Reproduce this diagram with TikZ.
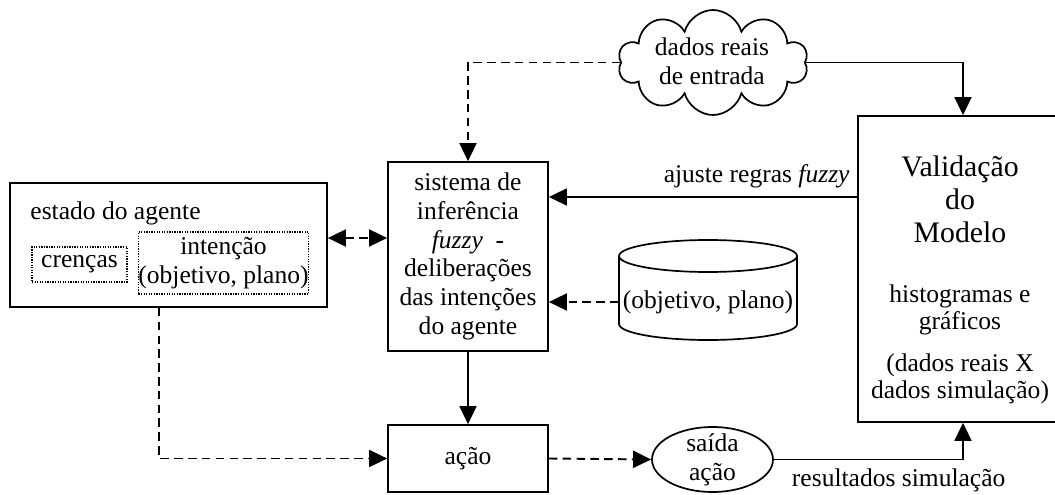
\documentclass[tikz,border=0pt]{standalone}
\usepackage{fontspec}
\setmainfont{Liberation Serif}
\usetikzlibrary{arrows.meta, positioning, shapes.geometric, shapes.symbols}

\begin{document}
\begin{tikzpicture}[
  x=0.47pt, y=0.47pt,
  every node/.style={font=\fontsize{12}{13.5}\selectfont, align=center, inner sep=0pt},
  size/.style 2 args={minimum width=#1*0.47pt, minimum height=#2*0.47pt},
  box/.style={draw, line width=0.8pt},
  dotbox/.style={draw, line width=0.6pt, dash pattern=on 0.6pt off 0.6pt},
  arr/.style={-{Triangle[length=8.5pt, width=8pt]}, line width=0.8pt},
  dasharr/.style={arr, line width=0.9pt, dash pattern=on 4pt off 2.5pt},
]
\clip (0,0) rectangle (1055,-495);

% agent state
\node[box, size={317}{124}] (estado) at (168.5,-245) {};
\node[anchor=west] (estadotxt) at (30,-213) {estado do agente};
\node[dotbox, size={95}{35}] (crencas) at (79.5,-264.5) {crenças};
\node[dotbox, size={169}{62}] (intencao) at (223.5,-263) {intenção\\(objetivo, plano)};

% fuzzy inference and action
\node[box, size={160}{189}] (sis) at (468,-256.5) {sistema de\\inferência\\\textit{fuzzy}~ -\\deliberações\\das intenções\\do agente};
\node[box, size={160}{67}] (acao) at (468,-458.5) {ação};
\node[draw, ellipse, line width=0.8pt, size={121}{65}] (saida) at (712.5,-459.5) {};
\node (saidatxt) at (saida) {saída\\ação};

% real data cloud
\node[draw, cloud, cloud puffs=10, line width=0.8pt, size={190}{105}] (dados) at (713,-62.5) {};
\node (dadostxt) at (712,-61) {dados reais\\de entrada};

% goal/plan store
\node[size={178}{30}] (obj) at (708,-302) {(objetivo, plano)};
\draw[line width=0.8pt] (619,-256) -- (619,-324)
  arc[start angle=180, end angle=360, x radius=89, y radius=16] -- (797,-256);
\draw[line width=0.8pt] (708,-256) ellipse[x radius=89, y radius=16];

% model validation
\node[box, size={210}{306}] (val) at (963,-269) {};
\node[font=\fontsize{14}{15.5}\selectfont] (valtit) at (960,-199) {Validação\\do\\Modelo};
\node[font=\fontsize{12}{12.5}\selectfont] (valhist) at (960,-310) {histogramas e\\gráficos};
\node[font=\fontsize{12}{13}\selectfont] (valdados) at (960,-379) {(dados reais X\\dados simulação)};

% connectors
\draw[dasharr] (dados.west) -| (sis.north);
\draw[arr] (dados.east) -| (val.north);
\draw[arr] (val.west |- 0,-197) -- node[pos=0.326, above=4pt] (ajuste) {ajuste regras \textit{fuzzy}} (sis.east |- 0,-197);
\draw[dasharr] (obj.west) -- (sis.east |- obj.west);
\draw[{Triangle[length=8.5pt, width=8pt]}-{Triangle[length=8.5pt, width=8pt]}, line width=0.9pt, dash pattern=on 4pt off 2.5pt]
  (estado.east |- 0,-238) -- (sis.west |- 0,-238);
\draw[dasharr] (estado.south -| 159,0) |- (acao.west);
\draw[arr] (sis.south) -- (acao.north);
\draw[dasharr] (acao.east) -- (saida.west);
\draw[arr] (saida.east) -| node[pos=0.33, below=4pt] (resultados) {resultados simulação} (val.south);

\end{tikzpicture}
\end{document}
